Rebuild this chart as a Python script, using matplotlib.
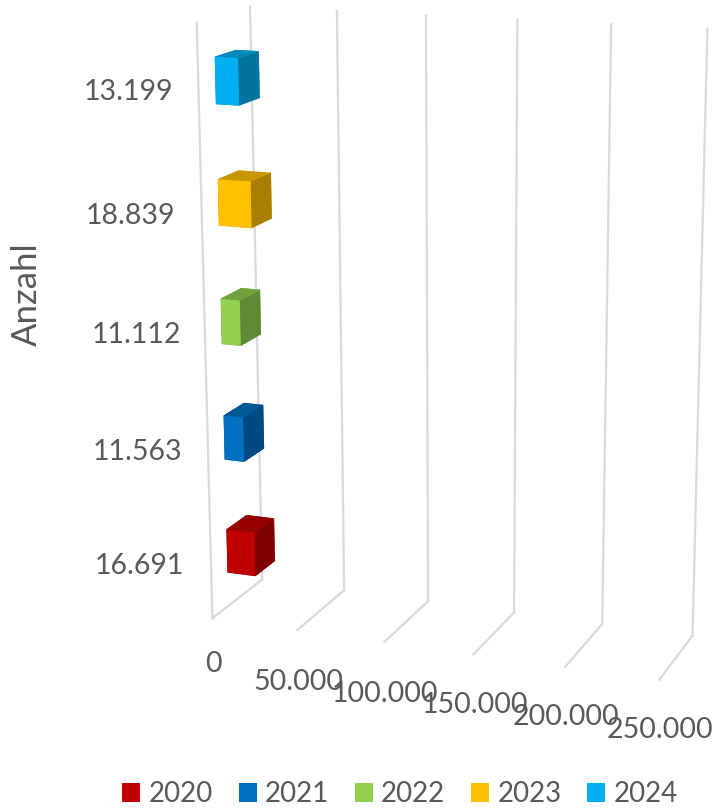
import numpy as np
import matplotlib
matplotlib.use('Agg')
import matplotlib.pyplot as plt
from matplotlib.colors import to_rgb
from matplotlib.patches import Patch
from mpl_toolkits.mplot3d import Axes3D

plt.rcParams['font.family'] = ['Lato', 'DejaVu Sans']

years = ['2020', '2021', '2022', '2023', '2024']
values = [16691, 11563, 11112, 18839, 13199]
value_labels = ['16.691', '11.563', '11.112', '18.839', '13.199']
colors = ['#C00000', '#0070C0', '#92D050', '#FFC000', '#00B0F0']
ticks = [0, 50000, 100000, 150000, 200000, 250000]
tick_labels = ['0', '50.000', '100.000', '150.000', '200.000', '250.000']

grid_color = '#D9D9D9'
text_color = '#595959'
W, H = 714, 811

fig = plt.figure(figsize=(W/100, H/100), dpi=100)

# camera values were fitted once against the gridline corners of the picture
ax = fig.add_axes([0.0745, 0.0971, 1.0819, 0.9525], projection='3d', computed_zorder=False)
ax.set_xlim(0, 250000)
ax.set_ylim(0, 1)
ax.set_zlim(0, 5)
ax.view_init(14.672, -69.594, 0.070)
ax.set_proj_type('persp', focal_length=0.6097)
ax.set_box_aspect((1, 0.2585, 1.2893))
ax.set_axis_off()

# gridlines: floor and back wall for each tick, plus the front edge of the side wall
for t in ticks:
    ax.plot([t, t], [0, 1], [0, 0], color=grid_color, lw=1.6, zorder=1)
    ax.plot([t, t], [1, 1], [0, 5], color=grid_color, lw=1.6, zorder=1)
ax.plot([0, 0], [0, 0], [0, 5], color=grid_color, lw=1.6, zorder=1)

def face_colors(c):
    r = np.array(to_rgb(c))
    # bottom, top, front, back, left, right
    return [r*0.78, r*0.78, r, r, r*0.66, r*0.66]

for i, v in enumerate(values):
    ax.bar3d(0, 0.31, i+0.30, v, 0.40, 0.385, color=face_colors(colors[i]),
             shade=False, edgecolor='none', linewidth=0, zorder=3+i)

# value labels beside the bars
label_x = [139, 138, 136, 130, 128]
label_y = [566, 452, 335, 216, 92]
for s, x, y in zip(value_labels, label_x, label_y):
    fig.text(x/W, 1-y/H, s, fontsize=20.5, color=text_color, ha='center', va='center')

# axis labels under the floor
tick_x = [213, 298, 385, 475, 566, 660]
tick_y = [664, 682, 694, 705, 717, 730]
for s, x, y in zip(tick_labels, tick_x, tick_y):
    fig.text(x/W, 1-y/H, s, fontsize=20.5, color=text_color, ha='center', va='center')

fig.text(27/W, 1-294/H, 'Anzahl', fontsize=25, color=text_color, rotation=90,
         ha='center', va='center')

handles = [Patch(facecolor=c, edgecolor='none', label=y) for c, y in zip(colors, years)]
fig.legend(handles=handles, ncols=5, loc='center', bbox_to_anchor=(400/W, 1-794/H),
           frameon=False, fontsize=20, labelcolor=text_color, handlelength=0.65,
           handleheight=0.65, handletextpad=0.3, columnspacing=0.92, borderpad=0,
           borderaxespad=0)

fig.savefig('out.png', dpi=100)
